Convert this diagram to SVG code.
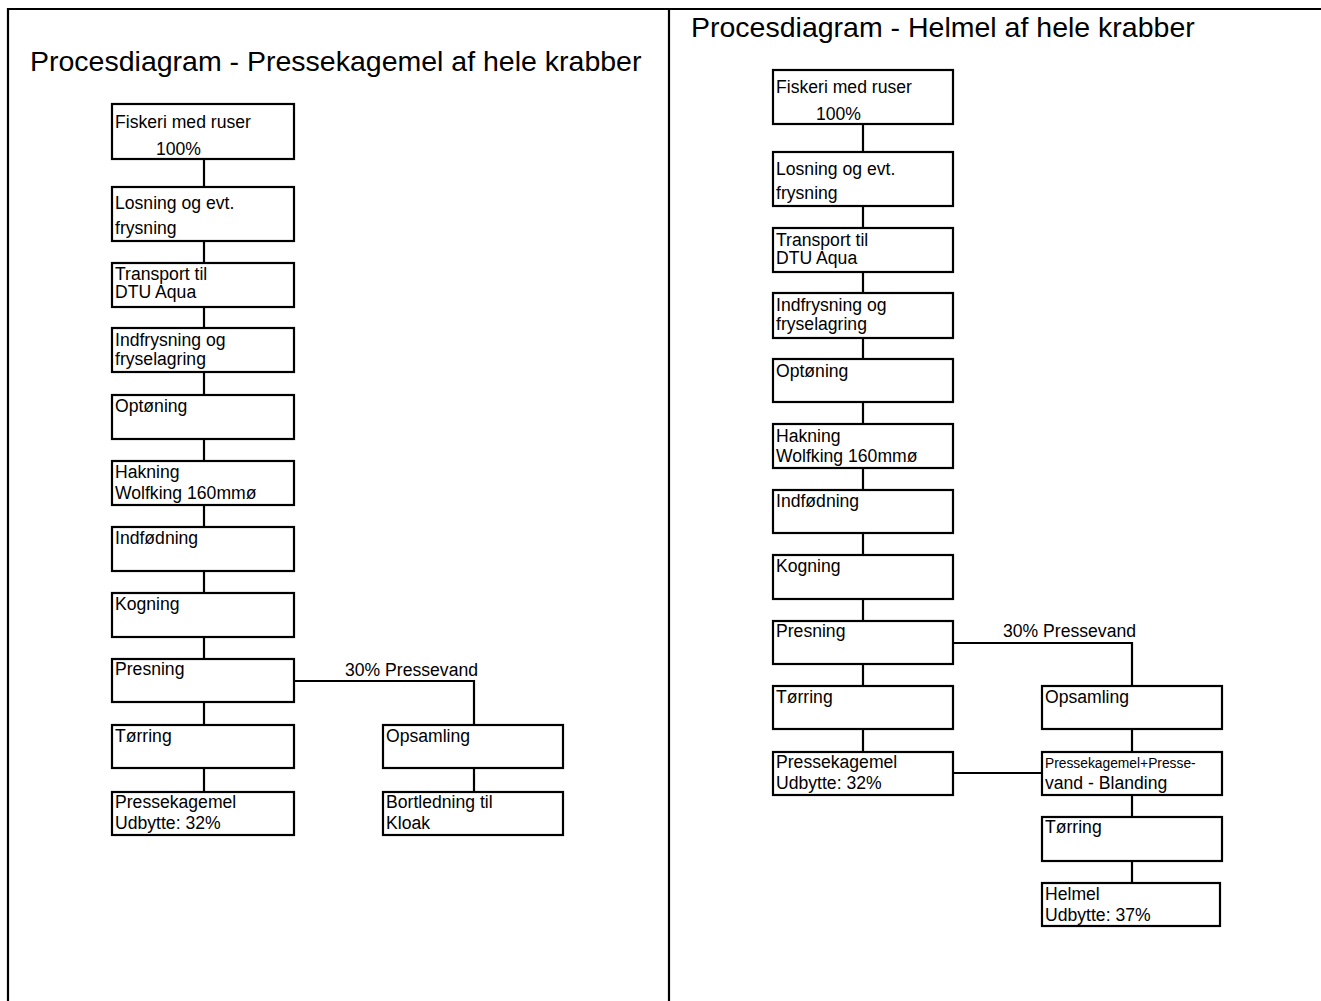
<svg xmlns="http://www.w3.org/2000/svg" width="1321" height="1001" viewBox="0 0 1321 1001">
<style>
.b{fill:#fff;stroke:#000;stroke-width:2.2}
.c{fill:none;stroke:#000;stroke-width:2.2}
.f{stroke:#000;stroke-width:2.2;fill:none}
text{font-family:"Liberation Sans",Arial,sans-serif;fill:#000}
.t{font-size:17.6px}
.s{font-size:13.8px}
.h{font-size:28.5px}
</style>
<rect width="1321" height="1001" fill="#fff"/>
<g id="frame">
<path class="f" d="M8 1001 V9 H1321 M669 9 V1001"/>
</g>
<text class="h" x="30" y="71">Procesdiagram - Pressekagemel af hele krabber</text>
<text class="h" x="691" y="37">Procesdiagram - Helmel af hele krabber</text>
<g id="connectors">
<path class="c" d="M204 159V187 M204 241V263 M204 307V328 M204 372V395 M204 439V461 M204 505V527 M204 571V593 M204 637V659 M204 702V725 M204 768V792 M294 681H474V725 M474 768V792"/>
<path class="c" d="M863 124V152 M863 206V228 M863 272V293 M863 338V359 M863 402V424 M863 468V490 M863 533V555 M863 599V621 M863 664V686 M863 729V752 M953 643H1132V686 M1132 729V752 M1132 795V817 M1132 861V883 M953 773H1042"/>
<text class="t" x="345" y="676">30% Pressevand</text>
<text class="t" x="1003" y="637">30% Pressevand</text>
</g>
<g id="L1"><rect class="b" x="112" y="104" width="182" height="55"/><text class="t" x="115" y="128">Fiskeri med ruser</text><text class="t" x="156" y="155">100%</text></g>
<g id="L2"><rect class="b" x="112" y="187" width="182" height="54"/><text class="t" x="115" y="209">Losning og evt.</text><text class="t" x="115" y="234">frysning</text></g>
<g id="L3"><rect class="b" x="112" y="263" width="182" height="44"/><text class="t" x="115" y="280">Transport til</text><text class="t" x="115" y="298">DTU Aqua</text></g>
<g id="L4"><rect class="b" x="112" y="328" width="182" height="44"/><text class="t" x="115" y="346">Indfrysning og</text><text class="t" x="115" y="365">fryselagring</text></g>
<g id="L5"><rect class="b" x="112" y="395" width="182" height="44"/><text class="t" x="115" y="412">Optøning</text></g>
<g id="L6"><rect class="b" x="112" y="461" width="182" height="44"/><text class="t" x="115" y="478">Hakning</text><text class="t" x="115" y="499">Wolfking 160mmø</text></g>
<g id="L7"><rect class="b" x="112" y="527" width="182" height="44"/><text class="t" x="115" y="544">Indfødning</text></g>
<g id="L8"><rect class="b" x="112" y="593" width="182" height="44"/><text class="t" x="115" y="610">Kogning</text></g>
<g id="L9"><rect class="b" x="112" y="659" width="182" height="43"/><text class="t" x="115" y="675">Presning</text></g>
<g id="L10"><rect class="b" x="112" y="725" width="182" height="43"/><text class="t" x="115" y="742">Tørring</text></g>
<g id="L11"><rect class="b" x="112" y="792" width="182" height="43"/><text class="t" x="115" y="808">Pressekagemel</text><text class="t" x="115" y="829">Udbytte: 32%</text></g>
<g id="L12"><rect class="b" x="383" y="725" width="180" height="43"/><text class="t" x="386" y="742">Opsamling</text></g>
<g id="L13"><rect class="b" x="383" y="792" width="180" height="43"/><text class="t" x="386" y="808">Bortledning til</text><text class="t" x="386" y="829">Kloak</text></g>
<g id="R1"><rect class="b" x="773" y="70" width="180" height="54"/><text class="t" x="776" y="93">Fiskeri med ruser</text><text class="t" x="816" y="120">100%</text></g>
<g id="R2"><rect class="b" x="773" y="152" width="180" height="54"/><text class="t" x="776" y="175">Losning og evt.</text><text class="t" x="776" y="199">frysning</text></g>
<g id="R3"><rect class="b" x="773" y="228" width="180" height="44"/><text class="t" x="776" y="246">Transport til</text><text class="t" x="776" y="264">DTU Aqua</text></g>
<g id="R4"><rect class="b" x="773" y="293" width="180" height="45"/><text class="t" x="776" y="311">Indfrysning og</text><text class="t" x="776" y="330">fryselagring</text></g>
<g id="R5"><rect class="b" x="773" y="359" width="180" height="43"/><text class="t" x="776" y="377">Optøning</text></g>
<g id="R6"><rect class="b" x="773" y="424" width="180" height="44"/><text class="t" x="776" y="442">Hakning</text><text class="t" x="776" y="462">Wolfking 160mmø</text></g>
<g id="R7"><rect class="b" x="773" y="490" width="180" height="43"/><text class="t" x="776" y="507">Indfødning</text></g>
<g id="R8"><rect class="b" x="773" y="555" width="180" height="44"/><text class="t" x="776" y="572">Kogning</text></g>
<g id="R9"><rect class="b" x="773" y="621" width="180" height="43"/><text class="t" x="776" y="637">Presning</text></g>
<g id="R10"><rect class="b" x="773" y="686" width="180" height="43"/><text class="t" x="776" y="703">Tørring</text></g>
<g id="R11"><rect class="b" x="773" y="752" width="180" height="43"/><text class="t" x="776" y="768">Pressekagemel</text><text class="t" x="776" y="789">Udbytte: 32%</text></g>
<g id="R12"><rect class="b" x="1042" y="686" width="180" height="43"/><text class="t" x="1045" y="703">Opsamling</text></g>
<g id="R13"><rect class="b" x="1042" y="752" width="180" height="43"/><text class="s" x="1045" y="768">Pressekagemel+Presse-</text><text class="t" x="1045" y="789">vand - Blanding</text></g>
<g id="R14"><rect class="b" x="1042" y="817" width="180" height="44"/><text class="t" x="1045" y="833">Tørring</text></g>
<g id="R15"><rect class="b" x="1042" y="883" width="178" height="43"/><text class="t" x="1045" y="900">Helmel</text><text class="t" x="1045" y="921">Udbytte: 37%</text></g>
</svg>
